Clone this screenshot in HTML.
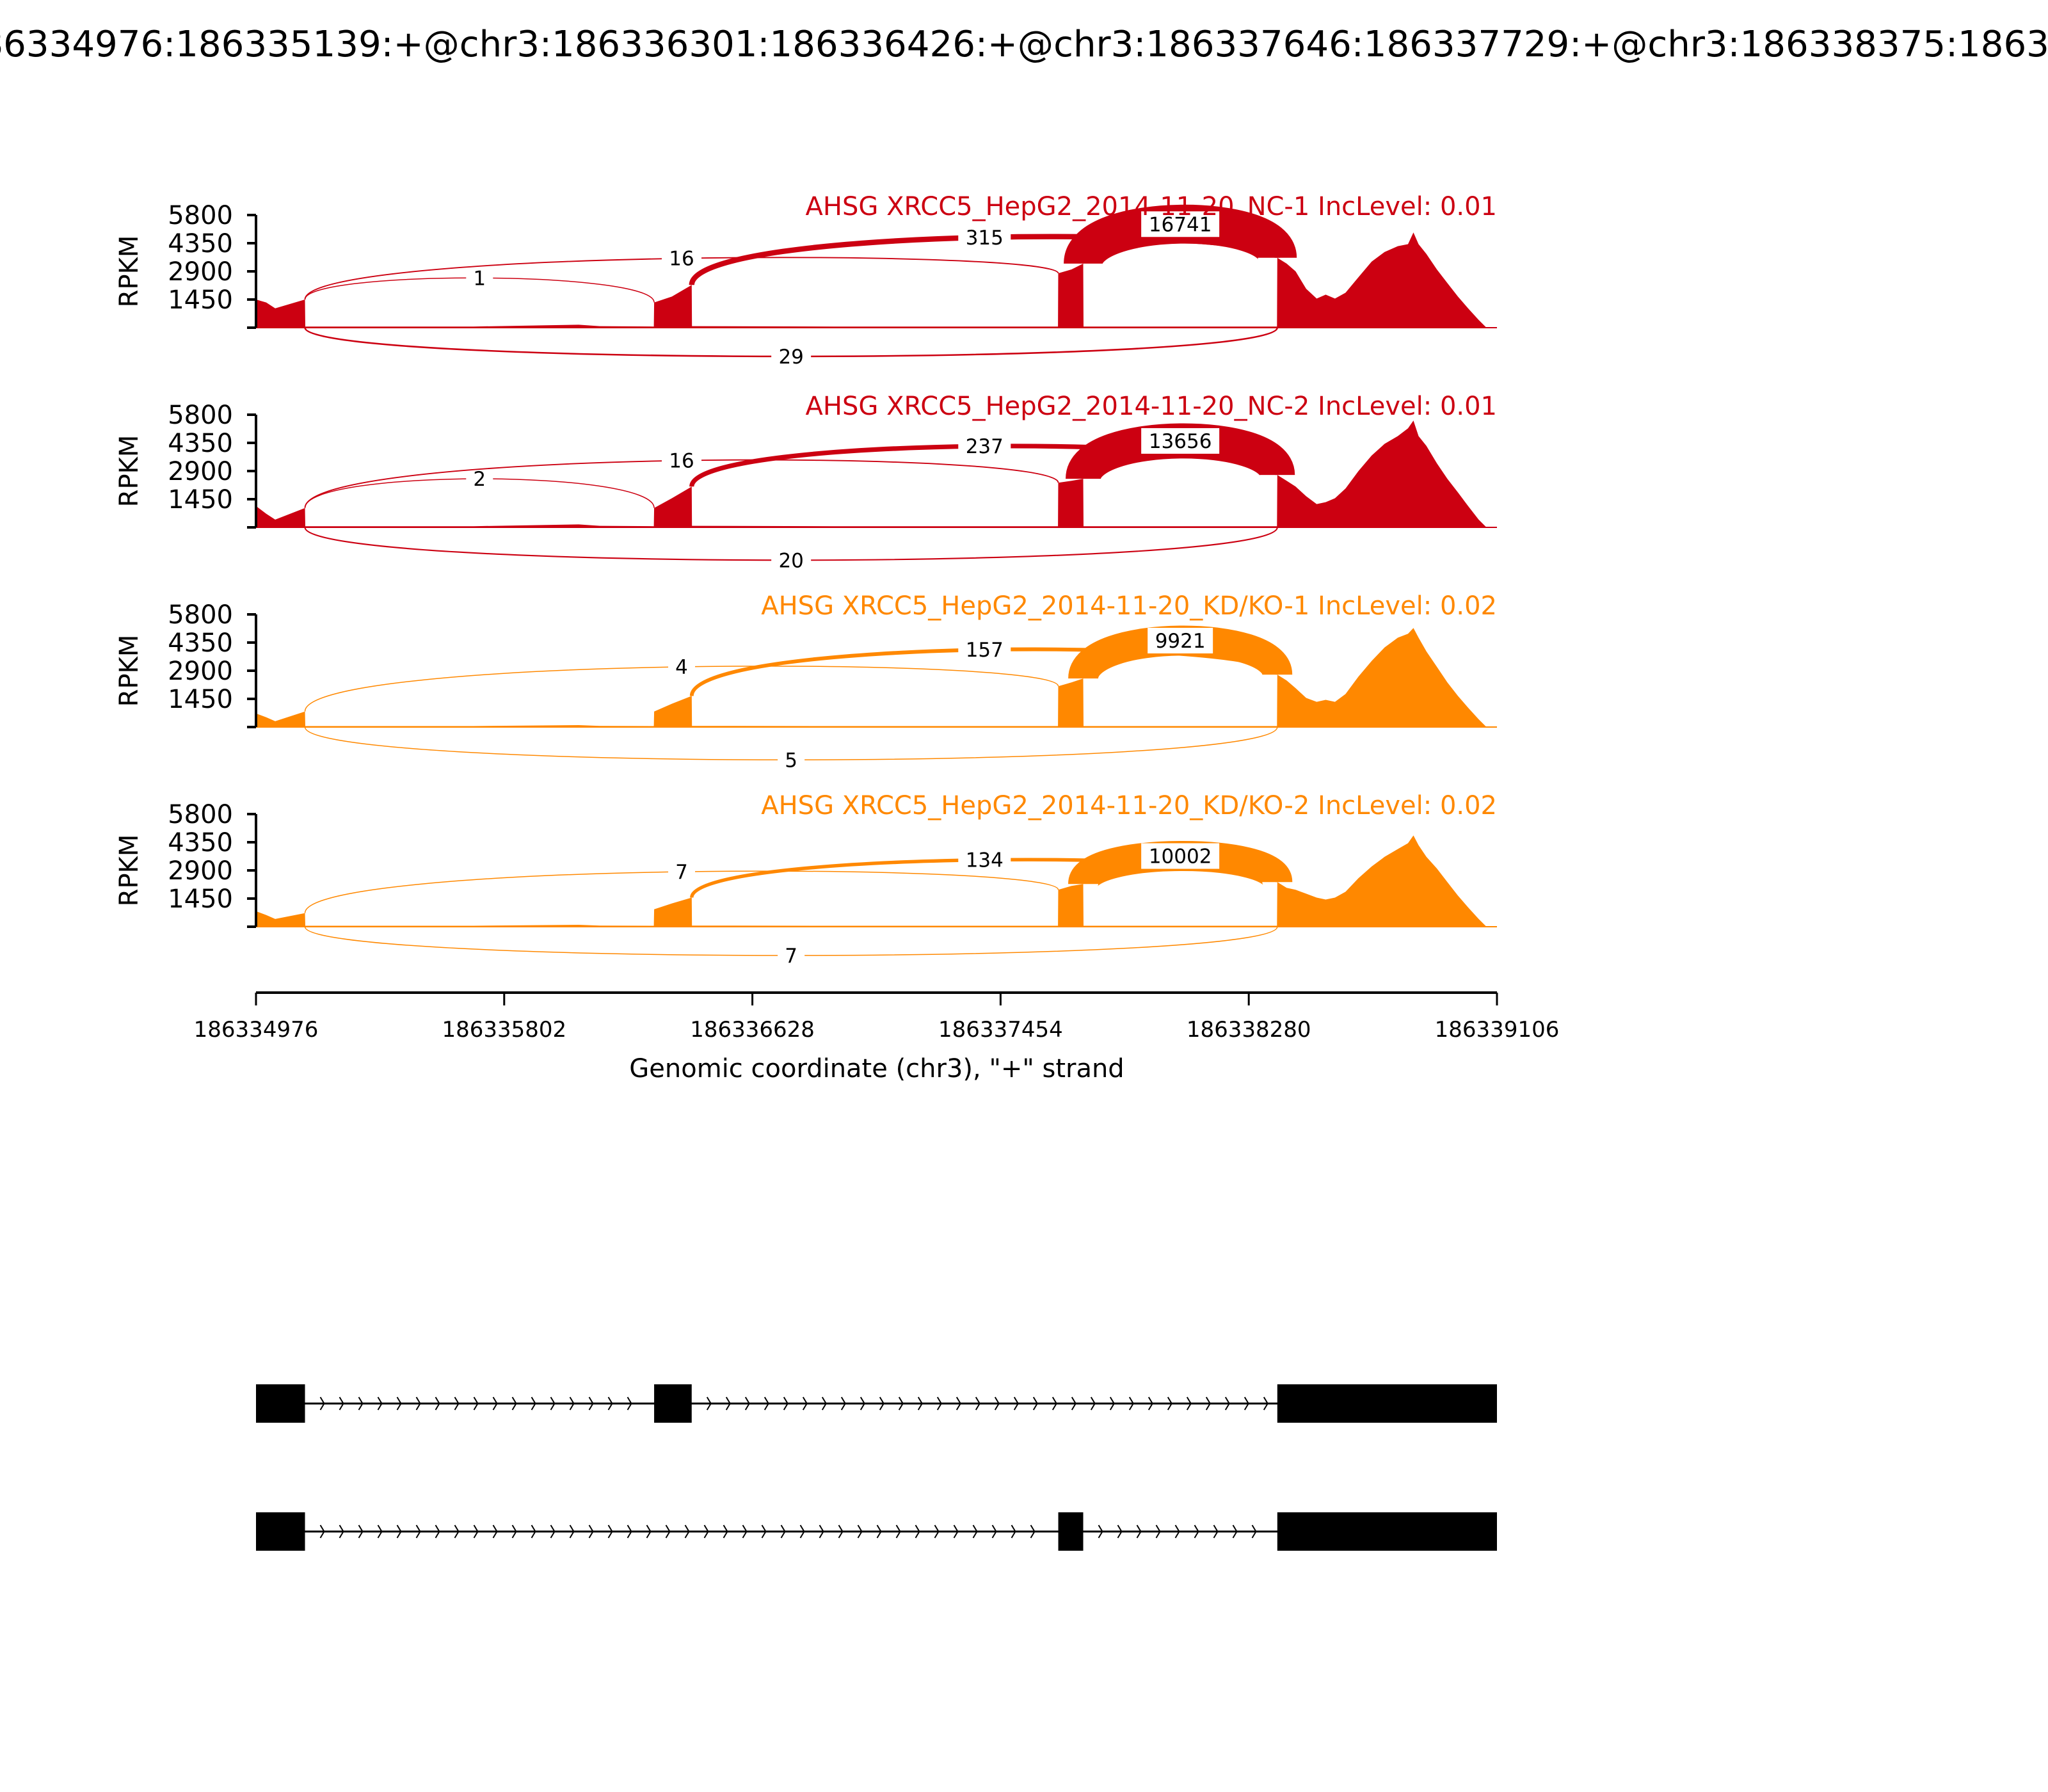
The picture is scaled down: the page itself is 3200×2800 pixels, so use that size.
<!DOCTYPE html>
<html><head><meta charset="utf-8"><style>
html,body{margin:0;padding:0;background:#fff;}
svg{display:block;font-family:"DejaVu Sans","Liberation Sans",sans-serif;}
</style></head><body>
<svg id="chart" xmlns="http://www.w3.org/2000/svg" width="3200" height="2800" viewBox="0 0 3200 2800">
<rect width="3200" height="2800" fill="#fff"/>
<text x="1618" y="88" font-size="56" text-anchor="middle" textLength="3657" lengthAdjust="spacingAndGlyphs">chr3:186334976:186335139:+@chr3:186336301:186336426:+@chr3:186337646:186337729:+@chr3:186338375:186339106:+</text>
<g id="panels"></g>
<g id="xaxis"></g>
<g id="genes"></g>
</svg>
<script>
const xMin = 186334976, xMax = 186339106;
const xTicks = [186334976,186335802,186336628,186337454,186338280,186339106];
const yTicks = [0,1450,2900,4350,5800];
const sampleNames = ["AHSG XRCC5_HepG2_2014-11-20_NC-1 IncLevel: 0.01","AHSG XRCC5_HepG2_2014-11-20_NC-2 IncLevel: 0.01","AHSG XRCC5_HepG2_2014-11-20_KD/KO-1 IncLevel: 0.02","AHSG XRCC5_HepG2_2014-11-20_KD/KO-2 IncLevel: 0.02"];
const sampleColors = ["#cc0011","#cc0011","#ff8800","#ff8800"];
const covPos = [186334976,186335010,186335040,186335139,186335140,186335700,186336050,186336120,186336300,
 186336301,186336360,186336426,186336427,186336900,186337645,
 186337646,186337690,186337729,186337730,186338100,186338374,
 186338375,186338406,186338436,186338471,186338506,186338536,186338567,186338602,186338645,186338689,186338732,186338776,186338810,186338828,186338845,186338871,186338906,186338941,186338976,186339010,186339045,186339071,186339106];
const cov1 = [1450,1300,1000,1450,60,60,150,80,60, 1300,1600,2200,80,60,60, 2800,3000,3300,60,60,60, 3600,3300,2900,2000,1500,1700,1500,1800,2600,3400,3900,4200,4300,4900,4300,3800,3000,2300,1600,1000,400,0,0];
const cov2 = [1100,700,400,1000,60,60,150,80,60, 1000,1500,2100,80,60,60, 2300,2400,2500,60,60,60, 2700,2400,2100,1600,1200,1300,1500,2000,2900,3700,4300,4700,5100,5500,4700,4200,3300,2500,1800,1100,400,0,0];
const cov3 = [700,500,300,800,50,50,100,60,50, 800,1200,1600,60,50,50, 2100,2300,2500,50,50,50, 2700,2400,2000,1500,1300,1400,1300,1700,2600,3400,4100,4600,4800,5100,4600,3900,3100,2300,1600,1000,400,0,0];
const cov4 = [800,600,400,700,50,50,100,60,50, 900,1200,1500,60,50,50, 1900,2100,2200,50,50,50, 2300,2000,1900,1700,1500,1400,1500,1800,2500,3100,3600,4000,4300,4700,4200,3600,3000,2300,1600,1000,400,0,0];
const covs = [cov1,cov2,cov3,cov4];
const juncDonor = [186335139,186335139,186336426,186337729,186335139];
const juncAcceptor = [186336301,186337646,186338375,186338375,186338375];
const juncCounts = [[1,16,315,16741,29],[2,16,237,13656,20],[0,4,157,9921,5],[0,7,134,10002,7]];
const juncPeaks = [[2560,3570,4650,5330,-1480],[2500,3440,4180,4450,-1690],[0,3100,3980,4450,-1690],[0,2830,3440,3640,-1480]];
const exons1 = [[186334976,186335139],[186336301,186336426],[186338375,186339106]];
const exons2 = [[186334976,186335139],[186337646,186337729],[186338375,186339106]];

const NS="http://www.w3.org/2000/svg";
const X0=400, X1=2339;
const sx = g => X0 + (g-xMin)/(xMax-xMin)*(X1-X0);
function mk(tag, attrs, parent){const e=document.createElementNS(NS,tag);for(const k in attrs)e.setAttribute(k,attrs[k]);parent.appendChild(e);return e;}
function covAt(c,g){let best=0;for(let i=0;i<covPos.length;i++){if(Math.abs(covPos[i]-g)<=1&&c[i]>best)best=c[i];}return best;}

const panels=document.getElementById('panels');
for(let p=0;p<4;p++){
  const base=512+p*312, H=176;
  const sy = v => base - v/5800*H;
  const g=mk('g',{},panels);
  
  
  const col=sampleColors[p], c=covs[p];
  let d='M'+sx(covPos[0])+','+base;
  for(let i=0;i<covPos.length;i++) d+=' L'+sx(covPos[i]).toFixed(1)+','+sy(c[i]).toFixed(1);
  d+=' L'+sx(covPos[covPos.length-1])+','+base+' Z';
  const area=mk('path',{d:d,fill:col},g);
  
  
  const bl=mk('line',{x1:X0,x2:X1,y1:base,y2:base,stroke:col,'stroke-width':2},g);
  
  
  for(let j=0;j<juncDonor.length;j++){
    const n=juncCounts[p][j]; if(n<=0) continue;
    const x1=sx(juncDonor[j]), x2=sx(juncAcceptor[j]);
    const pk=juncPeaks[p][j];
    let y1,y2;
    if(pk<0){y1=base;y2=base;}else{y1=sy(covAt(c,juncDonor[j]));y2=sy(covAt(c,juncAcceptor[j]));}
    const py=sy(pk), mx=(x1+x2)/2, cy=(8*py-y1-y2)/6;
    const w=Math.max(1.5,0.47*Math.sqrt(n));
    const arc=mk('path',{d:`M${x1},${y1} C${x1},${cy} ${x2},${cy} ${x2},${y2}`,fill:'none',stroke:col,'stroke-width':w},g);
    
    
    const lbl=String(n), tw=lbl.length*20+22;
    const bx=mk('rect',{x:mx-tw/2,y:py-20,width:tw,height:40,fill:'#fff'},g);
    
    
    const t=mk('text',{x:mx,y:py+11,'font-size':31,'text-anchor':'middle',fill:'#000'},g);
    t.textContent=lbl;
    
    
  }
  const sp=mk('line',{x1:X0,x2:X0,y1:base,y2:base-H,stroke:'#000','stroke-width':4},g);
  
  
  yTicks.forEach(v=>{
    const tk=mk('line',{x1:X0-14,x2:X0,y1:sy(v),y2:sy(v),stroke:'#000','stroke-width':4},g);
    
    
    if(v>0){const t=mk('text',{x:X0-36,y:sy(v)+14,'font-size':40,'text-anchor':'end'},g);t.textContent=v;
    
    }
  });
  const yl=mk('text',{x:0,y:0,'font-size':40,'text-anchor':'middle',transform:`translate(215,${base-88}) rotate(-90)`},g);
  yl.textContent='RPKM';
  
  
  const tt=mk('text',{x:X1,y:base-176,'font-size':40,'text-anchor':'end',fill:col},g);
  tt.textContent=sampleNames[p];
  
  
}
const xa=document.getElementById('xaxis');


const AY=1551;
const xl=mk('line',{x1:X0,x2:X1,y1:AY,y2:AY,stroke:'#000','stroke-width':4},xa);


xTicks.forEach(v=>{
  const tk=mk('line',{x1:sx(v),x2:sx(v),y1:AY,y2:AY+20,stroke:'#000','stroke-width':3},xa);
  
  
  const t=mk('text',{x:sx(v),y:AY+69,'font-size':34,'text-anchor':'middle'},xa);
  t.textContent=v;
  
  
});
const xt=mk('text',{x:1370,y:1683,'font-size':40,'text-anchor':'middle'},xa);
xt.textContent='Genomic coordinate (chr3), "+" strand';


const gn=document.getElementById('genes');
[[exons1,2193],[exons2,2393]].forEach(([ex,cy],k)=>{
  const g=mk('g',{},gn);
  
  
  mk('line',{x1:X0,x2:X1,y1:cy,y2:cy,stroke:'#000','stroke-width':3},g);
  for(let i=0;i<ex.length-1;i++){
    const a=sx(ex[i][1]), b=sx(ex[i+1][0]);
    for(let x=a+30;x<b-8;x+=30){
      mk('path',{d:`M${x-6},${cy-10} L${x},${cy} L${x-6},${cy+10}`,fill:'none',stroke:'#000','stroke-width':2},g);
    }
  }
  ex.forEach(e=>{
    const r=mk('rect',{x:sx(e[0]),y:cy-30,width:sx(e[1])-sx(e[0]),height:60,fill:'#000'},g);
    
    
  });
});
</script>
</body></html>
